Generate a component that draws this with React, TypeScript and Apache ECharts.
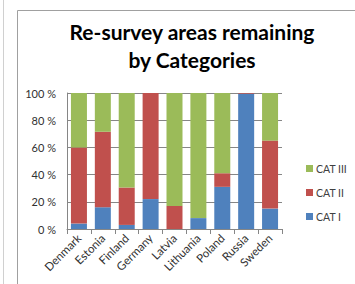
import React, { useEffect, useRef } from "react";
import * as echarts from "echarts";

const categories = ["Denmark", "Estonia", "Finland", "Germany", "Latvia", "Lithuania", "Poland", "Russia", "Sweden"];
const cat1 = [4, 16, 3, 22, 0, 8, 31, 99.5, 15];
const cat2 = [56, 55.5, 27.5, 78, 17, 0, 10, 0.5, 50];
const cat3 = [40, 28.5, 69.5, 0, 83, 92, 59, 0, 35];
const yTicks = [0, 20, 40, 60, 80, 100];

export default function App() {
  const ref = useRef<HTMLDivElement>(null);
  useEffect(() => {
    const chart = echarts.init(ref.current!, undefined, { renderer: "svg" });
    const font = "Lato";
    chart.setOption({
      animation: false,
      backgroundColor: "#ffffff",
      title: {
        text: "Re-survey areas remaining\nby Categories",
        left: 187,
        textAlign: "center",
        top: 12,
        textStyle: { fontFamily: font, fontSize: 21, fontWeight: "bold", color: "#000", lineHeight: 28 },
      },
      graphic: [
        { type: "line", shape: { x1: 3.5, y1: 0, x2: 3.5, y2: 284 }, style: { stroke: "#d0d0d0", lineWidth: 1 } },
        { type: "rect", shape: { x: 17.5, y: 10.5, width: 350, height: 290 }, style: { fill: "none", stroke: "#a0a0a0", lineWidth: 1 } },
      ],
      legend: {
        orient: "vertical",
        left: 301,
        top: 158,
        itemWidth: 7,
        itemHeight: 7,
        itemGap: 13,
        icon: "rect",
        data: ["CAT III", "CAT II", "CAT I"],
        textStyle: { fontFamily: font, fontSize: 10.5, color: "#404040", padding: [0, 0, 0, -2] },
      },
      grid: { left: 67, right: 73, top: 93, bottom: 55 },
      xAxis: {
        type: "category",
        data: categories,
        axisLine: { lineStyle: { color: "#868686" } },
        axisTick: { show: true, alignWithLabel: false, lineStyle: { color: "#868686" } },
        axisLabel: { rotate: 45, fontFamily: font, fontSize: 11.5, color: "#303030", margin: 7, interval: 0 },
      },
      yAxis: {
        type: "value",
        min: 0,
        max: 100,
        interval: 20,
        axisLine: { show: true, lineStyle: { color: "#868686" } },
        axisTick: { show: false },
        splitLine: { lineStyle: { color: "#868686" } },
        axisLabel: {
          fontFamily: font,
          fontSize: 11,
          color: "#303030",
          margin: 11,
          formatter: (v: number) => (yTicks.includes(v) ? v + " %" : ""),
        },
      },
      series: [
        { name: "CAT I", type: "bar", stack: "a", data: cat1, barWidth: 16, itemStyle: { color: "#4F81BD" } },
        { name: "CAT II", type: "bar", stack: "a", data: cat2, barWidth: 16, itemStyle: { color: "#C0504D" } },
        { name: "CAT III", type: "bar", stack: "a", data: cat3, barWidth: 16, itemStyle: { color: "#9BBB59" } },
      ],
    });
    return () => chart.dispose();
  }, []);
  return <div ref={ref} style={{ position: "absolute", left: 0, top: 0, width: 355, height: 284 }} />;
}
